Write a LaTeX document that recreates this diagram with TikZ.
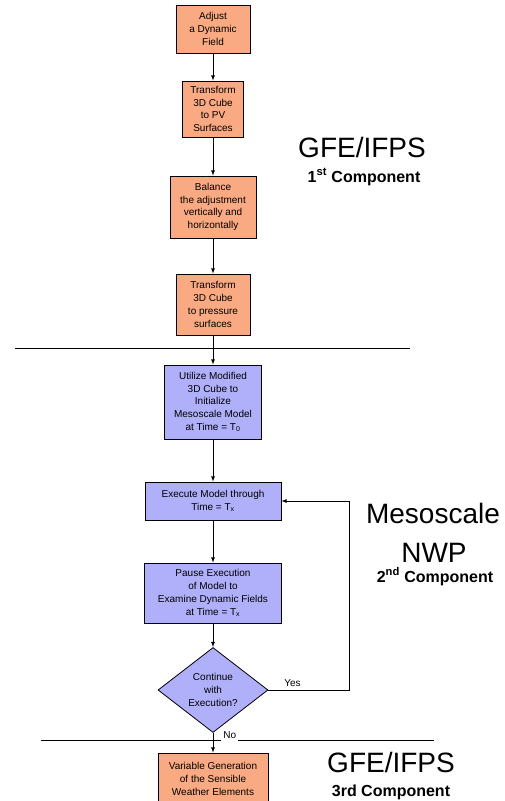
\documentclass[tikz,border=0pt]{standalone}
\usepackage{fontspec}
\setmainfont{Liberation Sans}
\usepackage{tikz}
\usetikzlibrary{shapes.geometric}

\definecolor{peach}{RGB}{250,170,130}
\definecolor{lilac}{RGB}{175,175,250}

\tikzset{
	stepbox/.style={draw, rectangle, fill=peach, align=center, inner sep=1pt,
		font=\fontsize{10}{12.8}\selectfont},
	mesobox/.style={stepbox, fill=lilac},
	biglabel/.style={anchor=base, font=\fontsize{28}{30}\selectfont},
	complabel/.style={anchor=base, font=\fontsize{16}{18}\selectfont\bfseries},
	flow/.style={->, >=latex, line width=0.8pt},
}

\begin{document}
\begin{tikzpicture}[x=1pt, y=-1pt, line width=0.8pt]
	\def \mx {213}
	\useasboundingbox (0,0) rectangle (505,801);

	\draw (15,348) -- (410,348);
	\draw (41,740) -- (434,740);

	\node[stepbox, minimum width=74, minimum height=48] (adjust)    at (\mx,29)
		{Adjust\\a Dynamic\\Field};
	\node[stepbox, minimum width=61, minimum height=56] (topv)      at (\mx,109)
		{Transform\\3D Cube\\to PV\\Surfaces};
	\node[stepbox, minimum width=86, minimum height=62] (balance)   at (\mx,207)
		{Balance\\the adjustment\\vertically and\\horizontally};
	\node[stepbox, minimum width=74, minimum height=61] (topress)   at (\mx,304.5)
		{Transform\\3D Cube\\to pressure\\surfaces};
	\node[mesobox, minimum width=97, minimum height=74] (init)      at (\mx,402)
		{Utilize Modified\\3D Cube to\\Initialize\\Mesoscale Model\\at Time = T\textsubscript{0}};
	\node[mesobox, minimum width=136, minimum height=38] (run)      at (\mx,501)
		{Execute Model through\\Time = T\textsubscript{x}};
	\node[mesobox, minimum width=137, minimum height=60] (pause)    at (\mx,593)
		{Pause Execution\\of Model to\\Examine Dynamic Fields\\at Time = T\textsubscript{x}};
	\node[draw, diamond, fill=lilac, align=center, inner sep=0pt, aspect=1.3,
		minimum width=110, minimum height=85,
		font=\fontsize{10}{12.8}\selectfont] (choice) at (\mx,690)
		{Continue\\with\\Execution?};
	\node[stepbox, minimum width=110, minimum height=52] (weather)  at (\mx,779)
		{Variable Generation\\of the Sensible\\Weather Elements};

	\coordinate (loop) at (349,600);

	\draw[flow] (adjust) -- (topv);
	\draw[flow] (topv) -- (balance);
	\draw[flow] (balance) -- (topress);
	\draw[flow] (topress) -- (init);
	\draw[flow] (init) -- (run);
	\draw[flow] (run) -- (pause);
	\draw[flow] (pause) -- (choice);
	\draw[flow] (choice.east) -- node[above, pos=0.3, font=\fontsize{10}{12}\selectfont] {Yes}
		(choice.east -| loop) |- (run.east);
	\draw[flow] (choice.south) -- node[right, pos=0.12, xshift=8pt, fill=white, inner sep=2pt,
		font=\fontsize{10}{12}\selectfont] {No} (weather);

	\node[biglabel]  (gfetop)   at (362,157) {GFE/IFPS};
	\node[complabel] (comptop)  at (364,182) {1\textsuperscript{st} Component};
	\node[biglabel]  (meso)     at (433,523) {Mesoscale};
	\node[biglabel]  (nwp)      at (434,562) {NWP};
	\node[complabel] (compmid)  at (435,582) {2\textsuperscript{nd} Component};
	\node[biglabel]  (gfebot)   at (391,772) {GFE/IFPS};
	\node[complabel] (compbot)  at (391,796) {3rd Component};
\end{tikzpicture}
\end{document}
